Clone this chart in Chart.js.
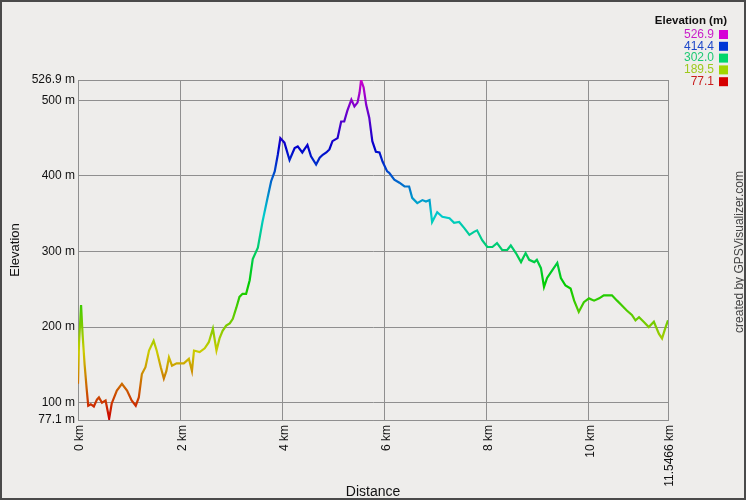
<!DOCTYPE html>
<html>
<head>
<meta charset="utf-8">
<script src="https://cdn.jsdelivr.net/npm/chart.js@4/dist/chart.umd.min.js"></script>
<style>
  html, body { margin: 0; padding: 0; background: #eeedeb; }
  #wrap { width: 746px; height: 500px; position: relative; }
</style>
</head>
<body>
<div id="wrap"><canvas id="profile"></canvas></div>
<script>
// track profile
const distanceKm = [
  0, 0.02, 0.06, 0.09, 0.13, 0.17, 0.20, 0.25, 0.31, 0.37, 0.41, 0.47, 0.54, 0.61, 0.66,
  0.76, 0.86, 0.96, 1.05, 1.13, 1.19, 1.25, 1.32, 1.39, 1.48, 1.54, 1.62, 1.68, 1.73, 1.78,
  1.84, 1.93, 2.07, 2.17, 2.23, 2.27, 2.38, 2.48, 2.56, 2.64, 2.71, 2.77, 2.83, 2.90, 2.97,
  3.03, 3.10, 3.16, 3.22, 3.29, 3.36, 3.42, 3.52, 3.61, 3.71, 3.78, 3.85, 3.91, 3.96, 4.04,
  4.14, 4.24, 4.30, 4.39, 4.43, 4.49, 4.56, 4.66, 4.73, 4.79, 4.86, 4.92, 4.98, 5.08, 5.15,
  5.21, 5.27, 5.35, 5.41, 5.47, 5.51, 5.54, 5.59, 5.64, 5.70, 5.76, 5.83, 5.90, 5.96, 6.05,
  6.09, 6.19, 6.29, 6.39, 6.48, 6.54, 6.64, 6.74, 6.81, 6.88, 6.93, 7.03, 7.13, 7.27, 7.36,
  7.46, 7.56, 7.66, 7.75, 7.81, 7.91, 8.01, 8.11, 8.20, 8.30, 8.40, 8.47, 8.57, 8.67, 8.76,
  8.83, 8.93, 8.98, 9.06, 9.12, 9.18, 9.28, 9.38, 9.45, 9.54, 9.64, 9.71, 9.80, 9.90, 10.00,
  10.10, 10.20, 10.29, 10.39, 10.45, 10.55, 10.64, 10.74, 10.84, 10.91, 10.98, 11.07, 11.17, 11.27, 11.37,
  11.43, 11.50, 11.5466
];
const elevationM = [
  125, 178, 229, 190, 150, 118, 96, 98, 95, 104, 107, 100, 103, 79, 99,
  116, 125, 116, 103, 96, 107, 138, 147, 169, 182, 169, 147, 132, 142, 160,
  149, 152, 152, 158, 142, 169, 167, 172, 180, 198, 169, 185, 195, 202, 205,
  211, 226, 240, 244, 244, 262, 290, 305, 339, 371, 393, 406, 428, 450, 444,
  421, 437, 439, 431, 435, 441, 426, 415, 424, 428, 431, 435, 446, 450, 472,
  472, 486, 501, 492, 497, 510, 526.9, 517, 494, 477, 446, 432, 431, 419, 406,
  404, 395, 391, 386, 386, 371, 364, 368, 366, 368, 339, 352, 346, 344, 338,
  339, 331, 322, 326, 328, 315, 306, 306, 311, 302, 302, 308, 298, 286, 298,
  289, 286, 289, 278, 253, 265, 275, 285, 265, 255, 251, 235, 220, 233, 238,
  235, 238, 242, 242, 242, 235, 229, 222, 216, 209, 213, 207, 200, 207, 191,
  185, 200, 209
];

const xTicks = [0, 2, 4, 6, 8, 10, 11.5466];
const xTickLabels = ['0 km', '2 km', '4 km', '6 km', '8 km', '10 km', '11.5466 km'];
const yTicks = [77.1, 100, 200, 300, 400, 500, 526.9];
const yTickLabels = ['77.1 m', '100 m', '200 m', '300 m', '400 m', '500 m', '526.9 m'];
const legendValues = ['526.9', '414.4', '302.0', '189.5', '77.1'];

const yMin = 77.1, yMax = 526.9;
const hueFor = v => 300 * (v - yMin) / (yMax - yMin);

const canvas = document.getElementById('profile');
canvas.style.width = '100%';
canvas.style.height = '100%';
const ctx = canvas.getContext('2d');

const gpsDecor = {
  id: 'gpsDecor',
  beforeDraw(chart) {
    const c = chart.ctx;
    c.save();
    c.fillStyle = '#eeedeb';
    c.fillRect(0, 0, chart.width, chart.height);
    c.restore();
  },
  afterDraw(chart) {
    const c = chart.ctx;
    const xs = chart.scales.x;
    const bottom = chart.chartArea.bottom;
    c.save();
    c.fillStyle = '#111';
    c.font = '12px "Liberation Sans", Arial, sans-serif';
    c.textAlign = 'right';
    c.textBaseline = 'middle';
    xTicks.forEach((v, i) => {
      const px = xs.getPixelForValue(v);
      c.save();
      c.translate(px + 2, bottom + 5);
      c.rotate(-Math.PI / 2);
      c.fillText(xTickLabels[i], 0, 0);
      c.restore();
    });

    // legend
    c.font = 'bold 11.5px "Liberation Sans", Arial, sans-serif';
    c.textAlign = 'right';
    c.textBaseline = 'middle';
    c.fillText('Elevation (m)', 727, 21);
    c.font = '12px "Liberation Sans", Arial, sans-serif';
    legendValues.forEach((v, i) => {
      const y = 34.5 + i * 11.8;
      const h = hueFor(parseFloat(v));
      c.fillStyle = `hsl(${h}, 75%, 45%)`;
      c.fillText(v, 714, y);
      c.fillStyle = `hsl(${h}, 100%, 42%)`;
      c.fillRect(719, y - 4.5, 9, 9);
    });

    // credit
    c.fillStyle = '#444';
    c.font = '12px "Liberation Sans", Arial, sans-serif';
    c.textAlign = 'center';
    c.save();
    c.translate(740, 252);
    c.rotate(-Math.PI / 2);
    c.fillText('created by GPSVisualizer.com', 0, 0);
    c.restore();

    // frame
    c.strokeStyle = '#4a4a4a';
    c.lineWidth = 2;
    c.strokeRect(1, 1, chart.width - 2, chart.height - 2);
    c.restore();
  }
};

const lineGradient = (context) => {
  const chart = context.chart;
  const { chartArea, scales } = chart;
  if (!chartArea) return '#cc0000';
  const y0 = scales.y.getPixelForValue(yMin);
  const y1 = scales.y.getPixelForValue(yMax);
  const g = chart.ctx.createLinearGradient(0, y0, 0, y1);
  for (let i = 0; i <= 20; i++) {
    g.addColorStop(i / 20, `hsl(${15 * i}, 100%, 40%)`);
  }
  return g;
};

new Chart(ctx, {
  type: 'line',
  data: {
    datasets: [{
      label: 'Elevation',
      data: distanceKm.map((d, i) => ({ x: d, y: elevationM[i] })),
      borderColor: lineGradient,
      borderWidth: 2.2,
      pointRadius: 0,
      tension: 0,
      fill: false
    }]
  },
  options: {
    responsive: true,
    maintainAspectRatio: false,
    animation: false,
    layout: { padding: { top: 80, right: 78, bottom: 0, left: 0 } },
    plugins: {
      legend: { display: false },
      tooltip: { enabled: false }
    },
    scales: {
      x: {
        type: 'linear',
        min: 0,
        max: 11.5466,
        afterBuildTicks: (scale) => { scale.ticks = xTicks.map(v => ({ value: v })); },
        afterFit: (scale) => { scale.height = 80; },
        grid: { color: '#8f8f8f', drawTicks: false, lineWidth: 1 },
        border: { color: '#8f8f8f' },
        ticks: { display: false },
        title: {
          display: true,
          text: 'Distance',
          color: '#111',
          font: { family: '"Liberation Sans", Arial, sans-serif', size: 14 },
          padding: { top: 0, bottom: -1 }
        }
      },
      y: {
        type: 'linear',
        min: yMin,
        max: yMax,
        afterBuildTicks: (scale) => { scale.ticks = yTicks.map(v => ({ value: v })); },
        afterFit: (scale) => { scale.width = 78; },
        grid: { color: '#8f8f8f', drawTicks: false, lineWidth: 1 },
        border: { color: '#8f8f8f' },
        ticks: {
          color: '#111',
          padding: 3,
          autoSkip: false,
          font: { family: '"Liberation Sans", Arial, sans-serif', size: 12 },
          callback: (v) => {
            const i = yTicks.indexOf(v);
            return i >= 0 ? yTickLabels[i] : '';
          }
        },
        title: {
          display: true,
          text: 'Elevation',
          color: '#111',
          font: { family: '"Liberation Sans", Arial, sans-serif', size: 13 },
          padding: { top: 8, bottom: 0 }
        }
      }
    }
  },
  plugins: [gpsDecor]
});
</script>
</body>
</html>
